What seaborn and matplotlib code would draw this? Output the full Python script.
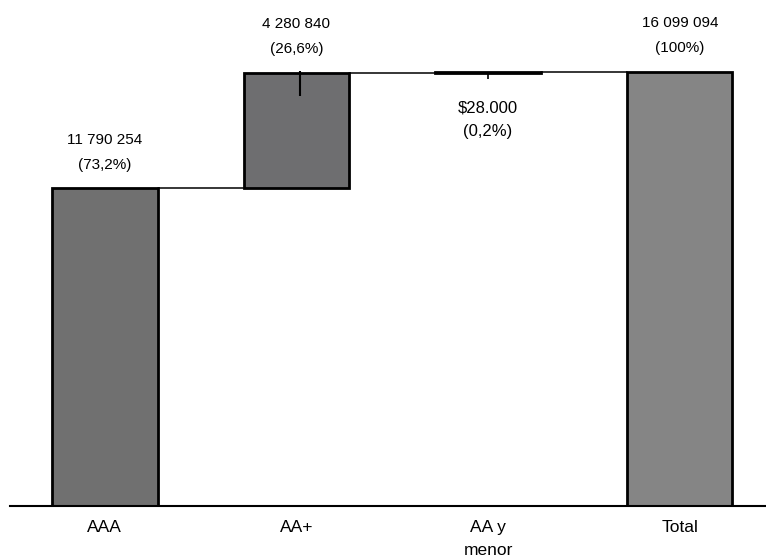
import numpy as np
import matplotlib
matplotlib.use('Agg')
import matplotlib.pyplot as plt
import seaborn as sns

# data
categories = ['AAA', 'AA+', 'AA y\nmenor', 'Total']
values = [11790254, 4280840, 28000, 16099094]
is_total = [False, False, False, True]
value_labels = ['11 790 254', '4 280 840', '$28.000', '16 099 094']
pct_labels = ['(73,2%)', '(26,6%)', '(0,2%)', '(100%)']
bar_colors = ['#707070', '#6e6e70', '#707070', '#858585']

sns.set_style('white')
plt.rcParams['font.family'] = ['Liberation Sans', 'DejaVu Sans']
plt.rcParams['text.color'] = 'black'
plt.rcParams['xtick.color'] = 'black'

# waterfall bottoms
bottoms = []
running = 0
for v, tot in zip(values, is_total):
    if tot:
        bottoms.append(0)
    else:
        bottoms.append(running)
        running += v
tops = [b + v for b, v in zip(bottoms, values)]

fig = plt.figure(figsize=(7.66, 5.59), dpi=100)
ax = fig.add_axes([0.013, 53 / 559, 0.987, 506 / 559])

width = 0.55
sns.barplot(x=categories, y=values, bottom=bottoms, color='#707070',
            width=width, edgecolor='black', linewidth=2, errorbar=None, ax=ax)
for patch, c in zip(ax.patches, bar_colors):
    patch.set_facecolor(c)

ymax = values[-1] * 506 / 434
ax.set_xlim(-0.495, 3.45)
ax.set_ylim(0, ymax)

# connector lines between bars
for i in range(len(values) - 1):
    ax.plot([i + width / 2, i + 1 - width / 2], [tops[i], tops[i]],
            color='black', lw=1.1, zorder=1)

# small leader ticks
ax.vlines(1.02, tops[1] - 0.045 * ymax, tops[1] + 0.004 * ymax, color='black', lw=1.5)
ax.vlines(2, tops[2] - 0.013 * ymax, tops[2], color='black', lw=1.2)

# labels
for i, (vl, pl) in enumerate(zip(value_labels, pct_labels)):
    if i == 2:
        ax.annotate(vl, (i, tops[i]), xytext=(0, -26), textcoords='offset points',
                    ha='center', va='center', fontsize=12)
        ax.annotate(pl, (i, tops[i]), xytext=(0, -43), textcoords='offset points',
                    ha='center', va='center', fontsize=12)
    else:
        ax.annotate(vl, (i, tops[i]), xytext=(0, 35), textcoords='offset points',
                    ha='center', va='center', fontsize=11)
        ax.annotate(pl, (i, tops[i]), xytext=(0, 17), textcoords='offset points',
                    ha='center', va='center', fontsize=11)

sns.despine(ax=ax, left=True)
ax.spines['bottom'].set_linewidth(1.5)
ax.spines['bottom'].set_color('black')
ax.set_yticks([])
ax.set_xlabel('')
ax.set_ylabel('')
ax.tick_params(axis='x', length=0, pad=10, labelsize=12.5)
for t in ax.get_xticklabels():
    t.set_linespacing(1.65)
    t.set_verticalalignment('top')

fig.savefig('out.png', dpi=100)
